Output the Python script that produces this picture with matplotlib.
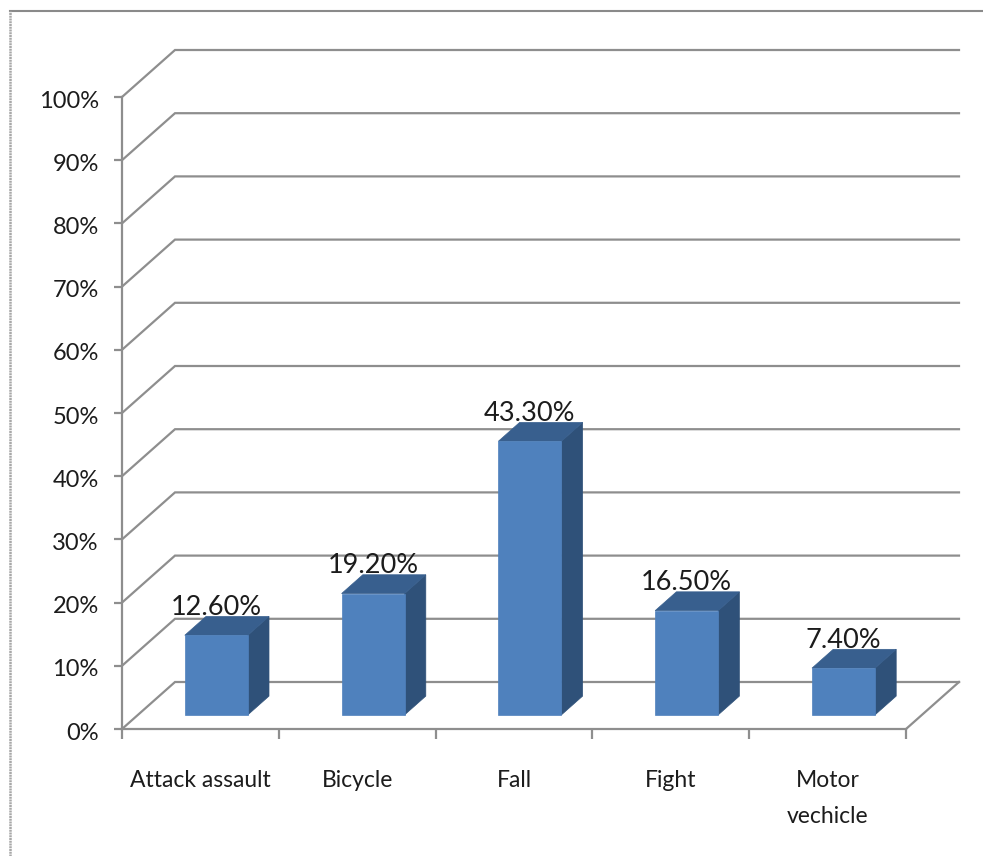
import matplotlib

matplotlib.use("Agg")
import matplotlib.pyplot as plt
from matplotlib.lines import Line2D
from matplotlib.patches import Polygon
from matplotlib.transforms import ScaledTranslation

categories = ["Attack assault", "Bicycle", "Fall", "Fight", "Motor\nvechicle"]
values = [12.6, 19.2, 43.3, 16.5, 7.4]
value_labels = ["12.60%", "19.20%", "43.30%", "16.50%", "7.40%"]
y_ticks = [0, 10, 20, 30, 40, 50, 60, 70, 80, 90, 100]

W, H = 983, 856
GRID = "#8e8e8e"
FRONT = "#4f81bd"
SIDE = "#2f5179"
TOP = "#385f8e"
TEXT = "#1c1c1c"

# oblique offset of the back wall, in data units
DEPTH_X = 53 / 156.8
DEPTH_Y = 47 / 6.32
BAR_WIDTH = 63 / 156.8
BAR_START = 0.30  # how far into the floor the bar front sits
BAR_DEPTH = 0.40  # bar depth as a share of the floor depth

plt.rcParams["font.family"] = ["Lato", "DejaVu Sans"]

fig = plt.figure(figsize=(W / 100, H / 100), dpi=100)
ax = fig.add_axes([122 / W, 1 - 729 / H, 784 / W, 632 / H])
ax.set_xlim(0, 5)
ax.set_ylim(0, 100)
ax.patch.set_visible(False)
for side in ("top", "right"):
    ax.spines[side].set_visible(False)
for side in ("left", "bottom"):
    ax.spines[side].set_color(GRID)
    ax.spines[side].set_linewidth(1.6)

ax.set_yticks(y_ticks)
ax.set_yticklabels([f"{v}%" for v in y_ticks])
ax.set_xticks(range(6))
ax.set_xticks([i + 0.5 for i in range(5)], minor=True)
ax.set_xticklabels([])
ax.set_xticklabels(categories, minor=True)
ax.tick_params(axis="y", length=5.8, width=1.6, color=GRID, pad=11, labelsize=17, labelcolor=TEXT)
ax.tick_params(axis="x", which="major", length=7.2, width=1.6, color=GRID)
ax.tick_params(axis="x", which="minor", length=0, pad=29.5, labelsize=16.5, labelcolor=TEXT)
for lab in ax.get_xticklabels(minor=True):
    lab.set_linespacing(1.87)
# percent labels sit a little under their tick
nudge = ScaledTranslation(0, -2 / 100, fig.dpi_scale_trans)
for lab in ax.get_yticklabels():
    lab.set_transform(lab.get_transform() + nudge)

# back wall lines with their slanted return to the value axis
for v in y_ticks:
    ax.plot([0, DEPTH_X, 5 + DEPTH_X], [v, v + DEPTH_Y, v + DEPTH_Y],
            color=GRID, lw=1.6, clip_on=False, zorder=1, solid_joinstyle="miter")
ax.plot([5, 5 + DEPTH_X], [0, DEPTH_Y], color=GRID, lw=1.6, clip_on=False, zorder=1)

# boxes drawn as three faces in oblique projection
for i, (val, label) in enumerate(zip(values, value_labels)):
    x0 = i + 0.5 - BAR_WIDTH / 2 + BAR_START * DEPTH_X
    x1 = x0 + BAR_WIDTH
    y0 = BAR_START * DEPTH_Y
    y1 = y0 + val
    dx = BAR_DEPTH * DEPTH_X
    dy = BAR_DEPTH * DEPTH_Y
    faces = [
        ([(x1, y0), (x1 + dx, y0 + dy), (x1 + dx, y1 + dy), (x1, y1)], SIDE),
        ([(x0, y1), (x1, y1), (x1 + dx, y1 + dy), (x0 + dx, y1 + dy)], TOP),
        ([(x0, y0), (x1, y0), (x1, y1), (x0, y1)], FRONT),
    ]
    for pts, color in faces:
        ax.add_patch(Polygon(pts, closed=True, facecolor=color, edgecolor=color,
                             lw=0.5, clip_on=False, zorder=3))
    ax.text((x0 + x1) / 2, y1 + 3.2, label, ha="center", va="baseline",
            fontsize=19.5, color=TEXT, zorder=4)

# outer frame of the chart area: solid along the top, finely dotted on the left
fig.add_artist(Line2D([9.5 / W, 1], [1 - 11 / H, 1 - 11 / H],
                      transform=fig.transFigure, color="#8a8a8a", lw=1.5))
fig.add_artist(Line2D([9.5 / W, 9.5 / W], [0, 1 - 11 / H],
                      transform=fig.transFigure, color="#a8a8a8", lw=1.8,
                      linestyle=(0, (0.8, 0.3))))

fig.savefig("out.png", dpi=100)
plt.close(fig)
